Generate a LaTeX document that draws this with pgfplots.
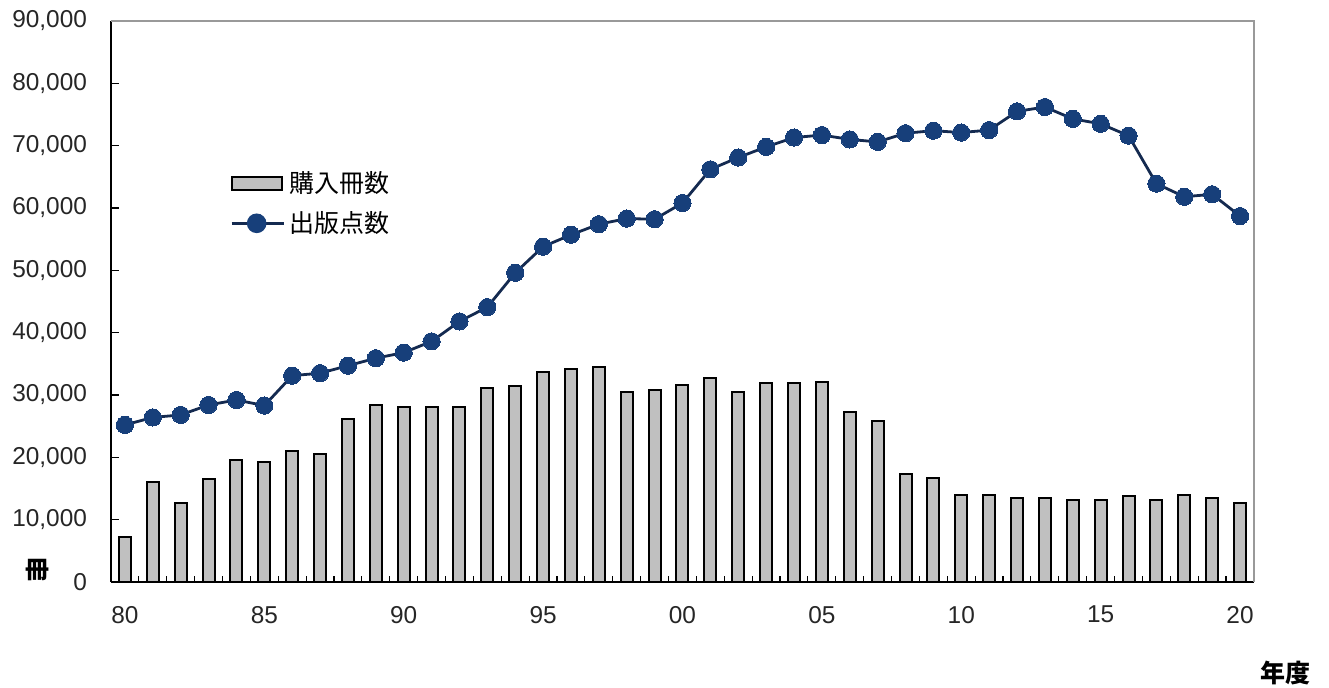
\documentclass[border=0pt]{standalone}
\usepackage{pgfplots}
\pgfplotsset{compat=1.18}
\usepackage{pgfplotstable}
\usepackage{fontspec}
\setmainfont{Liberation Sans}
\newfontfamily\jp{Noto Sans CJK JP}
\definecolor{navy}{RGB}{23,63,122}
\definecolor{navyline}{RGB}{20,42,80}
\definecolor{barg}{RGB}{192,192,192}

\pgfplotstableread{
year buy pub
1980 7200 25200
1981 16100 26400
1982 12700 26800
1983 16500 28400
1984 19500 29200
1985 19300 28300
1986 21000 33100
1987 20600 33500
1988 26100 34700
1989 28350 35900
1990 28000 36800
1991 28100 38600
1992 28100 41800
1993 31200 44100
1994 31500 49600
1995 33700 53800
1996 34100 55700
1997 34500 57400
1998 30400 58300
1999 30800 58200
2000 31600 60800
2001 32800 66200
2002 30400 68100
2003 31900 69800
2004 31900 71300
2005 32100 71700
2006 27300 71000
2007 25850 70600
2008 17400 72000
2009 16700 72400
2010 13950 72100
2011 14000 72500
2012 13500 75500
2013 13500 76200
2014 13200 74300
2015 13200 73500
2016 13800 71600
2017 13200 63900
2018 14000 61800
2019 13500 62200
2020 12600 58700
}\datatable

\begin{document}
\begin{tikzpicture}
\path[use as bounding box] (-55.5pt,-53pt) rectangle (609pt,291pt);
\begin{axis}[
  at={(0,0)}, anchor=south west,
  scale only axis, width=571.5pt, height=280.5pt,
  xmin=1979.5, xmax=2020.5, ymin=0, ymax=90000,
  axis x line*=bottom, axis y line*=left,
  axis line style={black, line width=0.8pt, -},
  xtick={1980,1985,...,2020},
  xticklabels={80,85,90,95,00,05,10,15,20},
  major x tick style={draw=none},
  minor xtick={1980.5,1981.5,...,2019.5},
  minor x tick style={black, line width=0.6pt},
  minor tick length=3pt,
  ytick={0,10000,...,90000},
  major y tick style={black, line width=0.6pt},
  major tick length=4pt,
  tick align=inside,
  scaled y ticks=false,
  /pgf/number format/.cd, 1000 sep={,}, fixed, assume math mode=true, /pgfplots/.cd,
  yticklabel style={font=\fontsize{12.2}{14}\selectfont, color=black!85, xshift=-8.5pt},
  xticklabel style={font=\fontsize{12.2}{14}\selectfont, color=black!85, yshift=-8.5pt},
  legend style={draw=none, fill=none, at={(0.104,0.74)}, anchor=north west,
    font=\jp\fontsize{12.5}{15}\selectfont, row sep=4pt, inner sep=0pt},
  legend cell align=left,
  clip=false,
]
\addplot[ybar, bar width=6pt, fill=barg, draw=black, line width=1pt,
  legend image code/.code={\draw[fill=barg, draw=black, line width=1pt] (0pt,-3.2pt) rectangle (25pt,3.2pt);}]
  table[x=year, y=buy] {\datatable};
\addlegendentry{購入冊数}
\addplot[navyline, line width=1.4pt, mark=*, mark size=4.3pt,
  mark options={fill=navy, draw=navy, line width=0pt},
  legend image code/.code={\draw[navyline, line width=1.4pt] (0pt,0pt) -- (26pt,0pt); \fill[navy] (12.5pt,0pt) circle (4.2pt);}]
  table[x=year, y=pub] {\datatable};
\addlegendentry{出版点数}
\draw[black!40, line width=1pt] (rel axis cs:0,1) -- (rel axis cs:1,1) -- (rel axis cs:1,0);
\end{axis}
\node[font=\jp\fontsize{12}{14}\selectfont\bfseries] at (-36.5pt,6pt) {冊};
\node[font=\jp\fontsize{12.5}{15}\selectfont\bfseries] at (587pt,-45.5pt) {年度};
\end{tikzpicture}
\end{document}
